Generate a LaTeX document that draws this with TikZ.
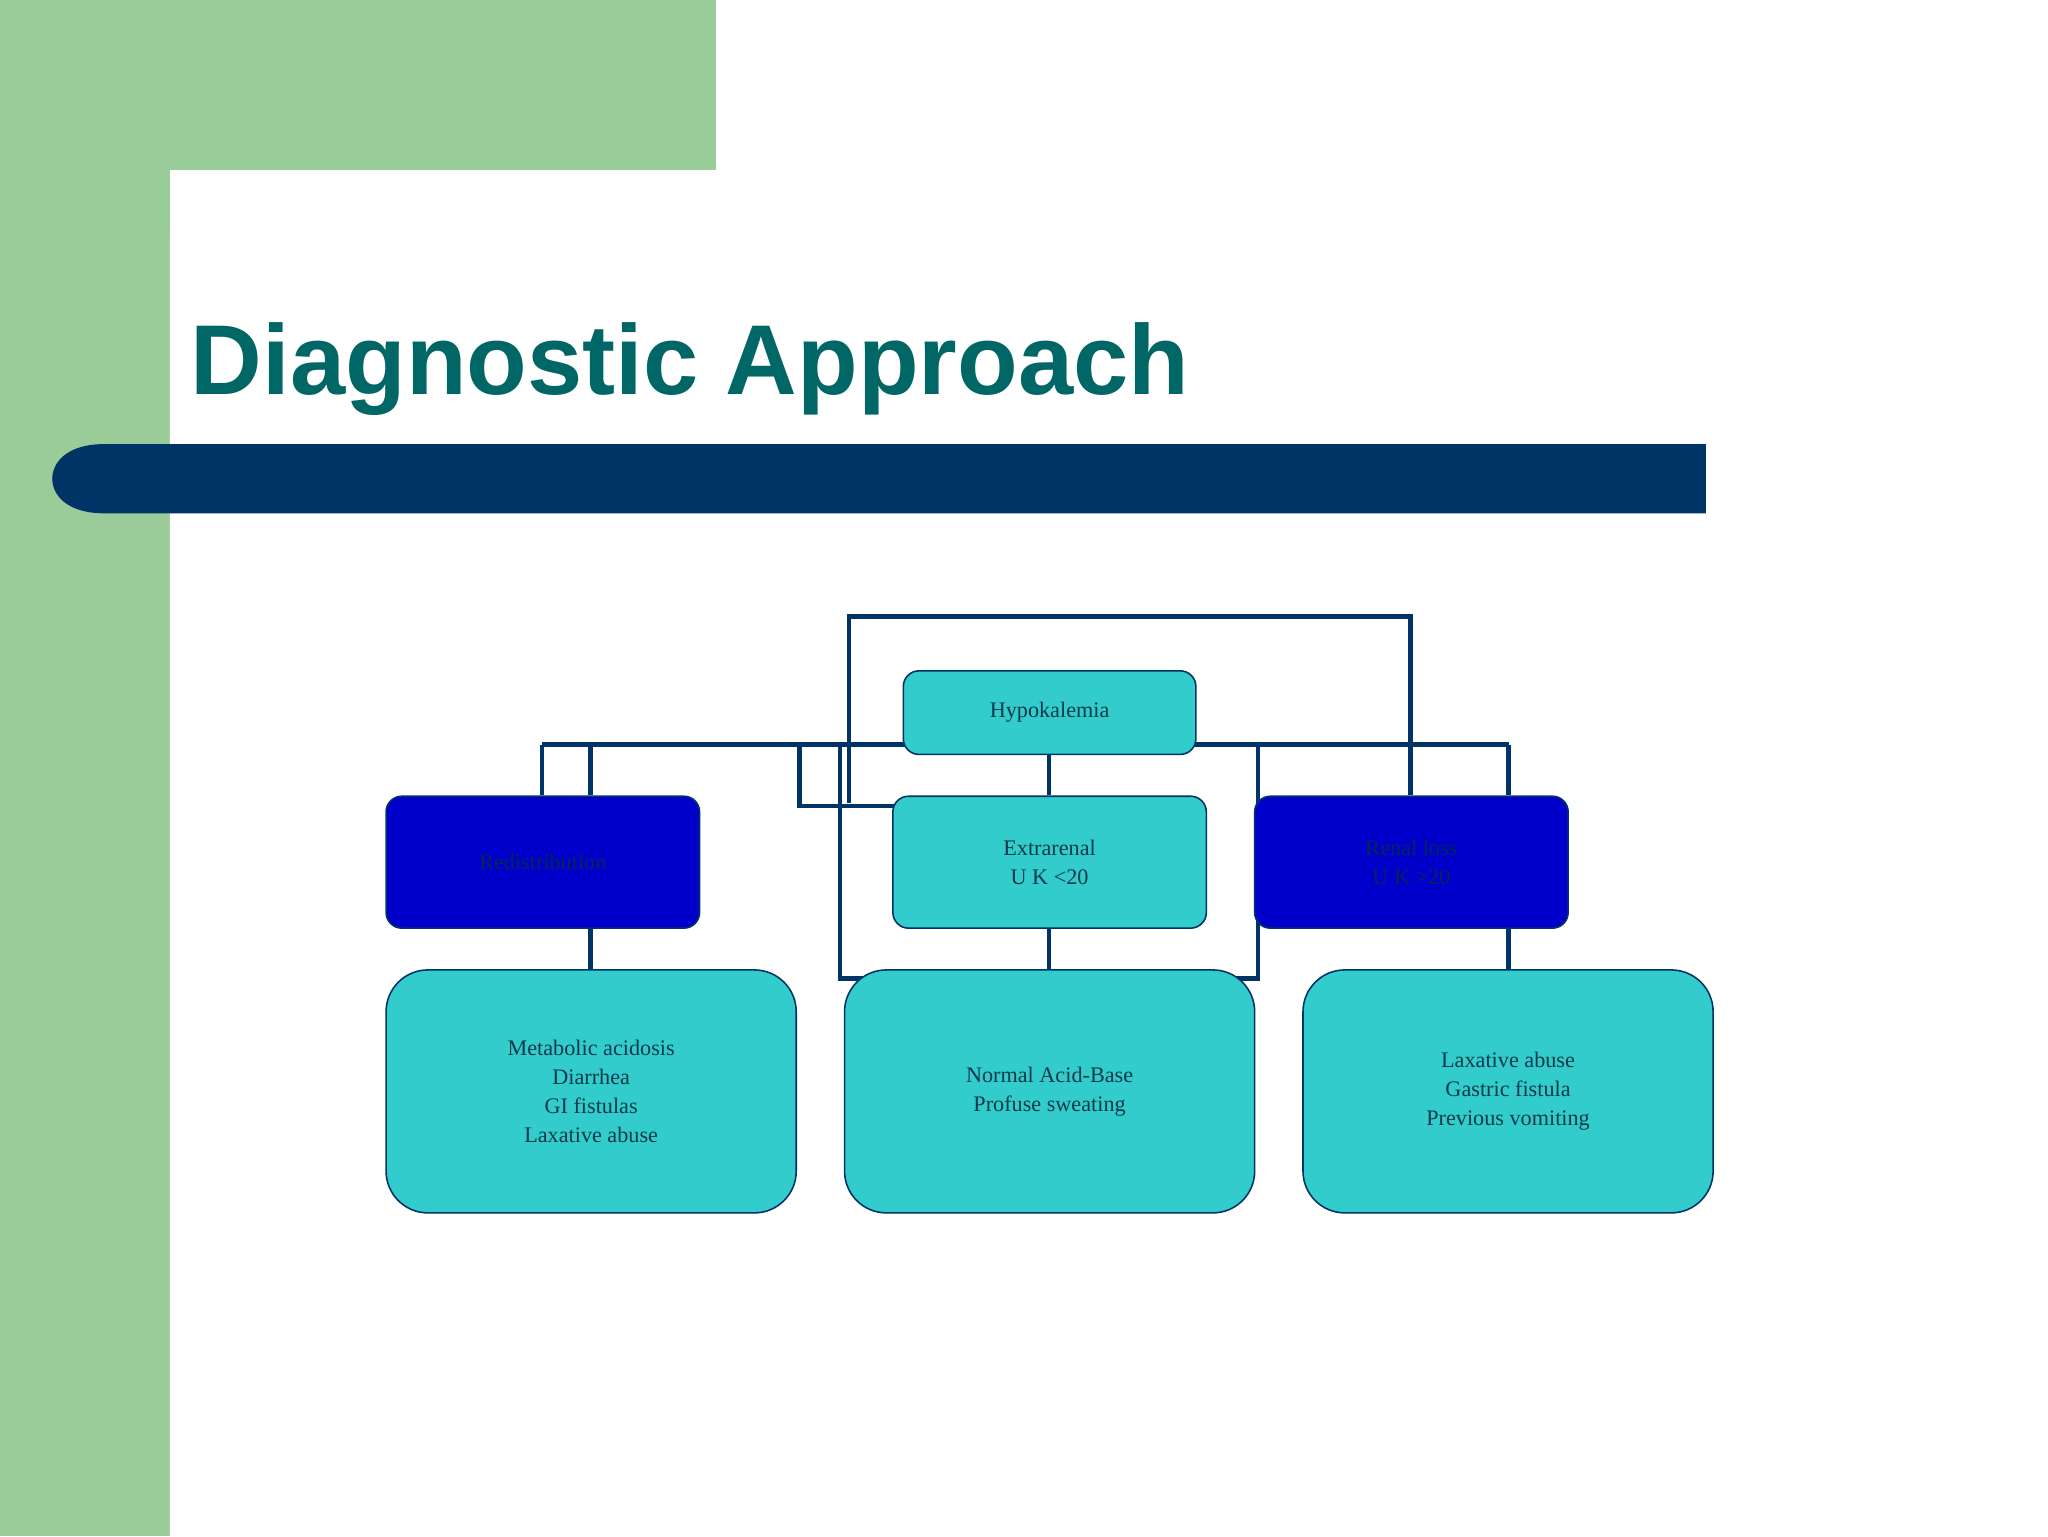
\documentclass[tikz,border=0pt]{standalone}
\usepackage{fontspec}
\setmainfont{Liberation Serif}
\newfontfamily\titlefont{Liberation Sans}
\definecolor{grn}{HTML}{99CC99}
\definecolor{navy}{HTML}{003366}
\definecolor{cyanbox}{HTML}{33CCCC}
\definecolor{bluebox}{HTML}{0000CC}
\definecolor{titlec}{HTML}{006666}
\definecolor{txt}{HTML}{0B3A4A}
\begin{document}
\begin{tikzpicture}[x=1pt,y=-1pt,
  box/.style={draw=navy,line width=1.2pt,rounded corners=12pt,anchor=north west,inner sep=0pt,align=center,font=\fontsize{17}{22}\selectfont,text=txt},
  cbox/.style={box,fill=cyanbox},
  bbox/.style={box,fill=bluebox,text=navy!80!black},
  big/.style={cbox,rounded corners=32pt},
  conn/.style={draw=navy,line width=3.5pt}]
\useasboundingbox (0,0) rectangle (1568,1176);
\fill[white] (0,0) rectangle (1568,1176);
\fill[grn] (0,0) rectangle (130,1176);
\fill[grn] (0,0) rectangle (548,130);
\fill[white] (130,1176) -- (130,180) arc[start angle=180,end angle=90,radius=50] -- (548,130) -- (548,180) -- (180,180) -- cycle;
\fill[white] (180,130) rectangle (548,1176);
\fill[white] (130,180) rectangle (548,1176);
\node[anchor=base west,inner sep=0pt,text=titlec,font=\titlefont\bfseries\fontsize{76}{80}\selectfont] (title) at (146,302) {Diagnostic Approach};
\fill[navy] (1306,340) -- (80,340) .. controls (50,340) and (40,355) .. (40,366.5) .. controls (40,378) and (50,393) .. (80,393) -- (1306,393) -- cycle;
% connectors
\coordinate (a1) at (650,472); \coordinate (a2) at (1080,472);
\coordinate (h1) at (415,570); \coordinate (h2) at (1155,570);
\draw[conn] (650,615) -- (a1) -- (a2) -- (1080,609);
\draw[conn] (h1) -- (h2);
\draw[conn] (415,570) -- (415,609);
\draw[conn] (452,570) -- (452,609);
\draw[conn] (1155,570) -- (1155,609);
\draw[conn] (963,570) -- (963,749) -- (643,749) -- (643,570);
\draw[conn] (612,570) -- (612,617) -- (690,617);
\draw[conn] (803,577) -- (803,609);
\draw[conn] (803,710) -- (803,742);
\draw[conn] (452,710) -- (452,742);
\draw[conn] (1155,710) -- (1155,742);
% boxes
\node[cbox,minimum width=224pt,minimum height=64pt] (hypo) at (691,513) {Hypokalemia};
\node[bbox,minimum width=240pt,minimum height=101pt] (redis) at (295,609) {Redistribution};
\node[cbox,minimum width=240pt,minimum height=101pt] (extra) at (683,609) {Extrarenal\\U K <20};
\node[bbox,minimum width=240pt,minimum height=101pt] (renal) at (960,609) {Renal loss\\U K >20};
\node[big,minimum width=314pt,minimum height=186pt] (b1) at (295,742) {Metabolic acidosis\\Diarrhea\\GI fistulas\\Laxative abuse};
\node[big,minimum width=314pt,minimum height=186pt] (b2) at (646,742) {Normal Acid-Base\\Profuse sweating};
\node[big,minimum width=314pt,minimum height=186pt] (b3) at (997,742) {Laxative abuse\\Gastric fistula\\Previous vomiting};
\end{tikzpicture}
\end{document}
